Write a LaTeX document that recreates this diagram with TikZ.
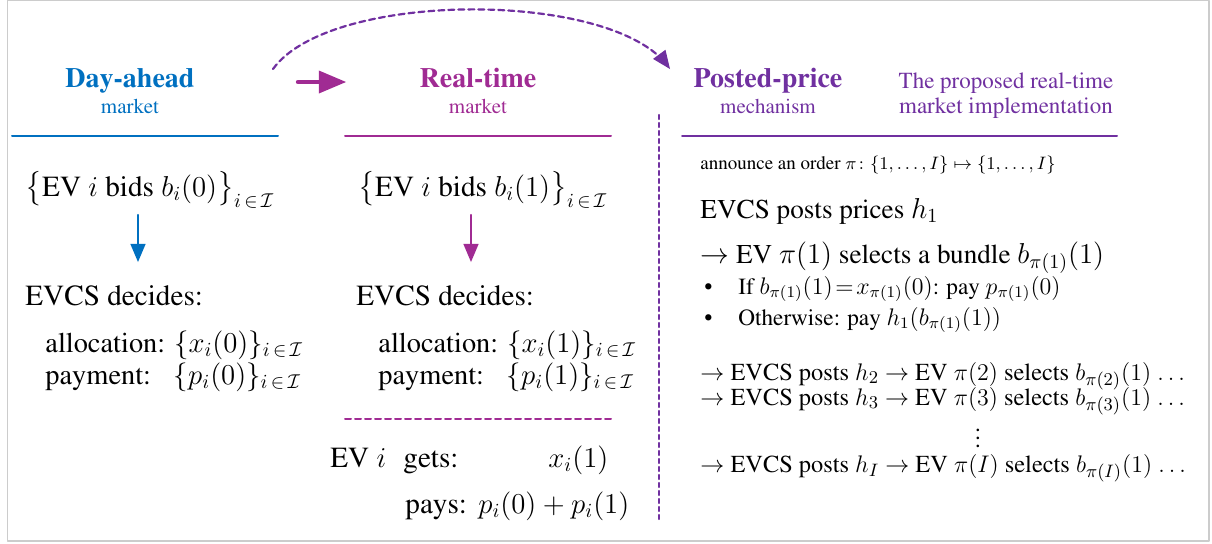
\documentclass[tikz,border=0pt]{standalone}
\usepackage{amsmath}
\usepackage[T1]{fontenc}
\usepackage{times}
\usetikzlibrary{arrows}
\definecolor{dayblue}{RGB}{0,112,192}
\definecolor{realmag}{RGB}{160,43,147}
\definecolor{postpurple}{RGB}{112,48,160}
\tikzset{
  head/.style={font=\fontsize{14}{16}\selectfont\bfseries, inner sep=0pt, anchor=base},
  subhead/.style={font=\fontsize{10.5}{12}\selectfont, inner sep=0pt, anchor=base},
  txt/.style={font=\fontsize{14.6}{17}\selectfont, inner sep=0pt, anchor=base west},
  itxt/.style={font=\fontsize{11.6}{14}\selectfont, inner sep=0pt, anchor=base west},
  rtxt/.style={font=\fontsize{12.2}{15}\selectfont, inner sep=0pt, anchor=base west},
  dashline/.style={line width=1.1pt, dash pattern=on 3pt off 2pt},
}
\begin{document}
\begin{tikzpicture}[line cap=round,line join=round,>=triangle 45,x=0.5pt,y=-0.5pt]
  \useasboundingbox (0,0) rectangle (1212,543);
  \draw [line width=0.6pt,color=black!20] (7.5,0.5) rectangle (1209,541);
  % titles
  \node [head,color=dayblue] (dayhead) at (130,87) {Day-ahead};
  \node [subhead,color=dayblue] (daysub) at (130,113) {market};
  \node [head,color=realmag] (realhead) at (478,87) {Real-time};
  \node [subhead,color=realmag] (realsub) at (478,113) {market};
  \node [head,color=postpurple] (posthead) at (768,87) {Posted-price};
  \node [subhead,color=postpurple] (postsub) at (768,113) {mechanism};
  \node [subhead,font=\fontsize{11.5}{13}\selectfont,color=postpurple] (implA) at (1006,88) {The proposed real-time};
  \node [subhead,font=\fontsize{11.5}{13}\selectfont,color=postpurple] (implB) at (1006,113) {market implementation};
  \draw [line width=1pt,color=dayblue] (12,135.5)-- (278,135.5);
  \draw [line width=1pt,color=realmag] (345,135.5)-- (611,135.5);
  \draw [line width=1pt,color=postpurple] (682,135.5)-- (1117,135.5);
  % arrows between the markets
  \coordinate (stepA) at (298,82);
  \coordinate (stepB) at (346,82);
  \draw [->,line width=2.2pt,color=realmag] (stepA)-- (stepB);
  \coordinate (arcA) at (273,69);
  \coordinate (arcB) at (670,69);
  \draw [->,dashline,color=postpurple] (arcA) .. controls (330,-10) and (612,-10) .. (arcB);
  \coordinate (vtop) at (659,115);
  \coordinate (vbot) at (659,520);
  \draw [dashline,dash pattern=on 2pt off 2pt,color=postpurple] (vtop)-- (vbot);
  % day-ahead column
  \node [txt] (bid0) at (25,196) {$\bigl\{\text{EV } i \text{ bids } b_i(0)\bigr\}_{i\,\in\,\mathcal{I}}$};
  \coordinate (down0a) at (138,215);
  \coordinate (down0b) at (138,262);
  \draw [->,line width=1.1pt,color=dayblue] (down0a)-- (down0b);
  \node [txt] (dec0) at (25,305) {EVCS decides:};
  \node [txt,font=\fontsize{14.2}{17}\selectfont] (alloc0) at (45,352) {allocation: $\{x_i(0)\}_{i\,\in\,\mathcal{I}}$};
  \node [txt,font=\fontsize{14.2}{17}\selectfont] (pay0) at (45,384) {payment:\hspace{0.8em}$\{p_i(0)\}_{i\,\in\,\mathcal{I}}$};
  % real-time column
  \node [txt] (bid1) at (358,196) {$\bigl\{\text{EV } i \text{ bids } b_i(1)\bigr\}_{i\,\in\,\mathcal{I}}$};
  \coordinate (down1a) at (471,215);
  \coordinate (down1b) at (471,262);
  \draw [->,line width=1.1pt,color=realmag] (down1a)-- (down1b);
  \node [txt] (dec1) at (356,305) {EVCS decides:};
  \node [txt,font=\fontsize{14.2}{17}\selectfont] (alloc1) at (378,352) {allocation: $\{x_i(1)\}_{i\,\in\,\mathcal{I}}$};
  \node [txt,font=\fontsize{14.2}{17}\selectfont] (pay1) at (378,384) {payment:\hspace{0.8em}$\{p_i(1)\}_{i\,\in\,\mathcal{I}}$};
  \coordinate (sepA) at (345,419);
  \coordinate (sepB) at (612,419);
  \draw [dashline,line width=1pt,color=realmag] (sepA)-- (sepB);
  \node [txt] (evi) at (330,467) {EV $i$};
  \node [txt] (gets) at (403,467) {gets:};
  \node [txt] (getsval) at (548,467) {$x_i(1)$};
  \node [txt] (pays) at (405,513) {pays:};
  \node [txt] (paysval) at (478,513) {$p_i(0)+p_i(1)$};
  % posted-price column
  \node [txt,font=\fontsize{9.5}{12}\selectfont] (order) at (700,169) {announce an order $\pi\colon\{1,\ldots,I\}\mapsto\{1,\ldots,I\}$};
  \node [txt,font=\fontsize{13.6}{16}\selectfont] (post1) at (700,218) {EVCS posts prices $h_1$};
  \node [txt,font=\fontsize{13.6}{16}\selectfont] (sel1) at (700,263) {$\rightarrow$ EV $\pi(1)$ selects a bundle $b_{\pi(1)}(1)$};
  \node [itxt] (bulA) at (704,294) {\textbullet};
  \node [itxt] (ifA) at (738,294) {If $b_{\pi(1)}(1)\!=\!x_{\pi(1)}(0)$: pay $p_{\pi(1)}(0)$};
  \node [itxt] (bulB) at (704,325) {\textbullet};
  \node [itxt] (ifB) at (738,325) {Otherwise: pay $h_1(b_{\pi(1)}(1))$};
  \node [rtxt] (post2) at (700,380) {$\rightarrow$ EVCS posts $h_2$ $\rightarrow$ EV $\pi(2)$ selects $b_{\pi(2)}(1)$ $\ldots$};
  \node [rtxt] (post3) at (700,405) {$\rightarrow$ EVCS posts $h_3$ $\rightarrow$ EV $\pi(3)$ selects $b_{\pi(3)}(1)$ $\ldots$};
  \node [rtxt,anchor=center] (vdots) at (978,432) {$\vdots$};
  \node [rtxt] (postI) at (700,472) {$\rightarrow$ EVCS posts $h_I$ $\rightarrow$ EV $\pi(I)$ selects $b_{\pi(I)}(1)$ $\ldots$};
\end{tikzpicture}
\end{document}
